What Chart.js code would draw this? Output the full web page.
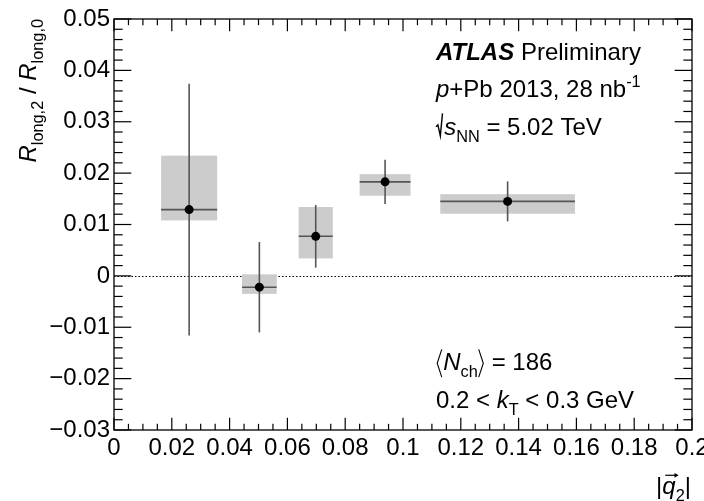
<!DOCTYPE html>
<html>
<head>
<meta charset="utf-8">
<script src="https://cdn.jsdelivr.net/npm/chart.js@4/dist/chart.umd.min.js"></script>
<style>
  html, body { margin: 0; padding: 0; background: #fff; }
  #wrap { width: 704px; height: 501px; position: relative; }
</style>
</head>
<body>
<div id="wrap"><canvas id="c"></canvas></div>
<script>
// |q2| bin centres and measured ratio
const qVals = [0.026, 0.0503, 0.0698, 0.0938, 0.1362];
const ratioVals = [0.0129, -0.0022, 0.0077, 0.0183, 0.0145];
// statistical error (symmetric) and bin half width
const statErr = [0.0245, 0.0088, 0.0061, 0.0043, 0.0039];
const binHalf = [0.0097, 0.006, 0.0059, 0.0088, 0.0233];
// systematic band edges
const sysLow = [0.0108, -0.0035, 0.0034, 0.0156, 0.0121];
const sysHigh = [0.0234, 0.0003, 0.0134, 0.0198, 0.0159];
// axis ticks
const xTickVals = [0, 0.02, 0.04, 0.06, 0.08, 0.1, 0.12, 0.14, 0.16, 0.18, 0.2];
const yTickVals = [-0.03, -0.02, -0.01, 0, 0.01, 0.02, 0.03, 0.04, 0.05];
const xMinorStep = 0.005;
const yMinorStep = 0.002;

const FAM = '"Liberation Sans", Arial, Helvetica, sans-serif';
const FS = 24;

function fmt(v) {
  const r = Math.round(v * 1000) / 1000;
  if (r === 0) return '0';
  return r < 0 ? '\u2212' + String(-r) : String(r);
}

// draw a row of text pieces; pieces can be sub/sup, italic, bold or custom glyphs
function drawRich(ctx, parts, x, y, size, align) {
  const fontOf = p => (p.it ? 'italic ' : '') + (p.b ? 'bold ' : '') +
    ((p.sub || p.sup) ? size * 0.68 : size) + 'px ' + FAM;
  let total = 0;
  parts.forEach(p => {
    if (p.draw) { p.w = p.width * size; }
    else { ctx.font = fontOf(p); p.w = ctx.measureText(p.t).width; }
    p.w += (p.gap || 0);
    total += p.w;
  });
  let cx = align === 'right' ? x - total : x;
  ctx.textAlign = 'left';
  ctx.textBaseline = 'alphabetic';
  parts.forEach(p => {
    p.x = cx;
    if (p.draw) { p.draw(ctx, cx, y, size); }
    else {
      ctx.font = fontOf(p);
      const dy = p.sub ? size * 0.3 : (p.sup ? -size * 0.42 : 0);
      ctx.fillText(p.t, cx, y + dy);
    }
    cx += p.w;
  });
  return parts;
}

function strokePath(ctx, pts) {
  ctx.beginPath();
  ctx.moveTo(pts[0][0], pts[0][1]);
  for (let i = 1; i < pts.length; i++) ctx.lineTo(pts[i][0], pts[i][1]);
  ctx.stroke();
}

const sqrtGlyph = { width: 0.34, draw: (ctx, x, y, s) => {
  ctx.lineWidth = 1.4; ctx.strokeStyle = '#000';
  strokePath(ctx, [[x + 0.0 * s, y - 0.34 * s], [x + 0.08 * s, y - 0.42 * s],
    [x + 0.18 * s, y + 0.04 * s], [x + 0.27 * s, y - 0.9 * s]]);
}};
const langle = { width: 0.3, draw: (ctx, x, y, s) => {
  ctx.lineWidth = 1.1; ctx.strokeStyle = '#000';
  strokePath(ctx, [[x + 0.24 * s, y - 0.86 * s], [x + 0.05 * s, y - 0.28 * s], [x + 0.24 * s, y + 0.3 * s]]);
}};
const rangle = { width: 0.3, draw: (ctx, x, y, s) => {
  ctx.lineWidth = 1.1; ctx.strokeStyle = '#000';
  strokePath(ctx, [[x + 0.04 * s, y - 0.86 * s], [x + 0.23 * s, y - 0.28 * s], [x + 0.04 * s, y + 0.3 * s]]);
}};

const decor = {
  id: 'decor',
  beforeDatasetsDraw(chart) {
    const { ctx, chartArea: a, scales: { x, y } } = chart;
    ctx.save();
    // dotted zero line
    const y0 = Math.round(y.getPixelForValue(0)) + 0.5;
    ctx.strokeStyle = '#000';
    ctx.lineWidth = 1;
    ctx.setLineDash([1.5, 2]);
    strokePath(ctx, [[a.left, y0], [a.right, y0]]);
    ctx.setLineDash([]);
    // systematic boxes
    ctx.fillStyle = '#cccccc';
    qVals.forEach((q, i) => {
      const x1 = x.getPixelForValue(q - binHalf[i]);
      const x2 = x.getPixelForValue(q + binHalf[i]);
      const yt = y.getPixelForValue(sysHigh[i]);
      const yb = y.getPixelForValue(sysLow[i]);
      ctx.fillRect(x1, yt, x2 - x1, yb - yt);
    });
    // error bars
    ctx.strokeStyle = '#555';
    ctx.lineWidth = 1.6;
    qVals.forEach((q, i) => {
      const px = x.getPixelForValue(q);
      const py = y.getPixelForValue(ratioVals[i]);
      strokePath(ctx, [[x.getPixelForValue(q - binHalf[i]), py], [x.getPixelForValue(q + binHalf[i]), py]]);
      strokePath(ctx, [[px, y.getPixelForValue(ratioVals[i] + statErr[i])], [px, y.getPixelForValue(ratioVals[i] - statErr[i])]]);
    });
    ctx.restore();
  },
  afterDraw(chart) {
    const { ctx, chartArea: a, scales: { x, y } } = chart;
    ctx.save();
    ctx.strokeStyle = '#000';
    ctx.lineWidth = 1.3;
    ctx.strokeRect(a.left, a.top, a.right - a.left, a.bottom - a.top);
    // inward ticks on all four sides
    const xMajLen = 0.03 * (a.bottom - a.top);
    const yMajLen = 0.03 * (a.right - a.left);
    const xMajStep = xTickVals[1] - xTickVals[0];
    const yMajStep = yTickVals[1] - yTickVals[0];
    ctx.lineWidth = 1.2;
    for (let i = 0; ; i++) {
      const v = x.min + i * xMinorStep;
      if (v > x.max + 1e-9) break;
      const major = Math.abs(v / xMajStep - Math.round(v / xMajStep)) < 1e-6;
      const len = major ? xMajLen : xMajLen / 2;
      const px = x.getPixelForValue(v);
      strokePath(ctx, [[px, a.bottom], [px, a.bottom - len]]);
      strokePath(ctx, [[px, a.top], [px, a.top + len]]);
    }
    for (let i = 0; ; i++) {
      const v = y.min + i * yMinorStep;
      if (v > y.max + 1e-9) break;
      const major = Math.abs(v / yMajStep - Math.round(v / yMajStep)) < 1e-6;
      const len = major ? yMajLen : yMajLen / 2;
      const py = y.getPixelForValue(v);
      strokePath(ctx, [[a.left, py], [a.left + len, py]]);
      strokePath(ctx, [[a.right, py], [a.right - len, py]]);
    }
    ctx.fillStyle = '#000';
    // y axis title, rotated, aligned to top
    ctx.save();
    ctx.translate(36, a.top);
    ctx.rotate(-Math.PI / 2);
    drawRich(ctx, [
      { t: 'R', it: true }, { t: 'long,2', sub: true }, { t: ' / ' },
      { t: 'R', it: true }, { t: 'long,0', sub: true }
    ], 0, 0, FS, 'right');
    ctx.restore();
    // x axis title
    const xt = drawRich(ctx, [
      { t: '|' }, { t: 'q', it: true }, { t: '2', sub: true }, { t: '|' }
    ], a.right - 1, 494, FS, 'right');
    const qx = xt[1].x, qw = xt[1].w;
    ctx.lineWidth = 1.2;
    const ay = 494 - 0.78 * FS;
    strokePath(ctx, [[qx + 0.12 * FS, ay], [qx + qw + 0.08 * FS, ay]]);
    ctx.beginPath();
    ctx.moveTo(qx + qw + 0.12 * FS, ay);
    ctx.lineTo(qx + qw - 0.05 * FS, ay - 0.1 * FS);
    ctx.lineTo(qx + qw - 0.05 * FS, ay + 0.1 * FS);
    ctx.closePath();
    ctx.fill();
    // labels
    const lx = 436;
    drawRich(ctx, [{ t: 'ATLAS', b: true, it: true }, { t: ' Preliminary' }], lx, 60, FS);
    drawRich(ctx, [{ t: 'p', it: true }, { t: '+Pb 2013, 28 nb' }, { t: '-1', sup: true }], lx, 97, FS);
    drawRich(ctx, [sqrtGlyph, { t: 's', it: true }, { t: 'NN', sub: true }, { t: ' = 5.02 TeV' }], lx, 135, FS);
    drawRich(ctx, [langle, { t: 'N', it: true }, { t: 'ch', sub: true }, rangle, { t: ' = 186' }], lx, 370, FS);
    drawRich(ctx, [{ t: '0.2 < ' }, { t: 'k', it: true }, { t: 'T', sub: true }, { t: ' < 0.3 GeV' }], lx, 408, FS);
    ctx.restore();
  }
};

new Chart(document.getElementById('c'), {
  type: 'scatter',
  data: {
    datasets: [{
      label: 'ratio',
      data: qVals.map((q, i) => ({ x: q, y: ratioVals[i] })),
      pointRadius: 4.5,
      pointHoverRadius: 4.5,
      backgroundColor: '#000',
      borderWidth: 0
    }]
  },
  options: {
    responsive: true,
    maintainAspectRatio: false,
    animation: false,
    events: [],
    layout: { padding: { top: 19, right: 12, left: 0, bottom: 0 } },
    plugins: { legend: { display: false }, tooltip: { enabled: false } },
    scales: {
      x: {
        type: 'linear', min: 0, max: 0.2,
        grid: { display: false, drawTicks: false },
        border: { display: false },
        afterBuildTicks: s => { s.ticks = xTickVals.map(v => ({ value: v })); },
        afterFit: s => { s.height = 71; s.paddingLeft = 0; s.paddingRight = 0; },
        ticks: {
          color: '#000', padding: 4, maxRotation: 0, autoSkip: false,
          font: { family: FAM, size: FS },
          callback: v => fmt(v)
        }
      },
      y: {
        type: 'linear', min: -0.03, max: 0.05,
        grid: { display: false, drawTicks: false },
        border: { display: false },
        afterBuildTicks: s => { s.ticks = yTickVals.map(v => ({ value: v })); },
        afterFit: s => { s.width = 114; s.paddingTop = 0; s.paddingBottom = 0; },
        ticks: {
          color: '#000', padding: 4, autoSkip: false,
          font: { family: FAM, size: FS },
          callback: v => fmt(v)
        }
      }
    }
  },
  plugins: [decor]
});
</script>
</body>
</html>
